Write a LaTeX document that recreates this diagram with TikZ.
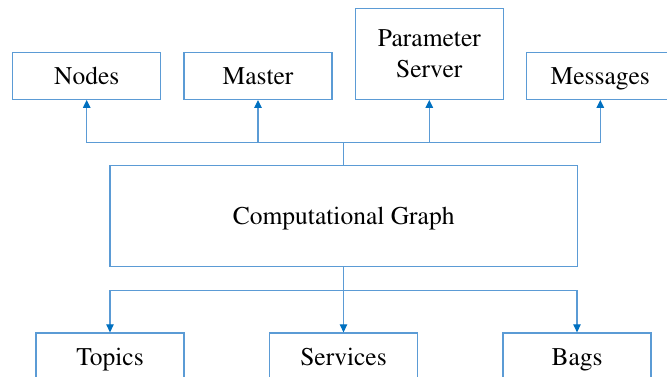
\documentclass[tikz,border=0pt]{standalone}
\usepackage[T1]{fontenc}
\usetikzlibrary{arrows.meta}
\definecolor{boxblue}{RGB}{91,155,213}
\definecolor{tipblue}{RGB}{0,112,192}
\tikzset{
  box/.style={draw=boxblue, line width=1.3pt, fill=white, minimum width=148pt, minimum height=47pt, inner sep=0pt, align=center, text height=17pt, text depth=0pt, font=\fontfamily{ptm}\fontsize{25.5}{31}\selectfont},
  link/.style={draw=boxblue, line width=1.2pt},
  arr/.style={link, -{Triangle[length=8pt,width=7.5pt,color=tipblue]}}
}
\begin{document}
\begin{tikzpicture}[x=1pt,y=-1pt]
\useasboundingbox (0,0) rectangle (667,377);
\clip (0,0) rectangle (667,377);
\fill[white] (0,0) rectangle (667,377);
% top row
\node[box] (nodes) at (86.7,75.8) {Nodes};
\node[box] (master) at (258,75.8) {Master};
\node[box, minimum height=90.5pt, text height=48pt] (param) at (429.3,54) {Parameter\\Server};
\node[box] (msgs) at (600.3,75.8) {Messages};
% centre
\node[box, minimum width=467.3pt, minimum height=101.4pt] (cg) at (343.7,216) {Computational Graph};
% bottom row
\node[box] (topics) at (110,356.5) {Topics};
\node[box] (services) at (343.5,356.5) {Services};
\node[box] (bags) at (577,356.5) {Bags};
% connectors
\coordinate (topbus) at (cg.north |- 0,142.3);
\coordinate (botbus) at (cg.south |- 0,290.3);
\draw[link] (cg.north) -- (topbus);
\draw[arr] (topbus) -| (nodes.south);
\draw[arr] (topbus) -| (master.south);
\draw[arr] (topbus) -| (param.south);
\draw[arr] (topbus) -| (msgs.south);
\draw[link] (cg.south) -- (botbus);
\draw[arr] (botbus) -| (topics.north);
\draw[arr] (botbus) -| (services.north);
\draw[arr] (botbus) -| (bags.north);
\end{tikzpicture}
\end{document}
